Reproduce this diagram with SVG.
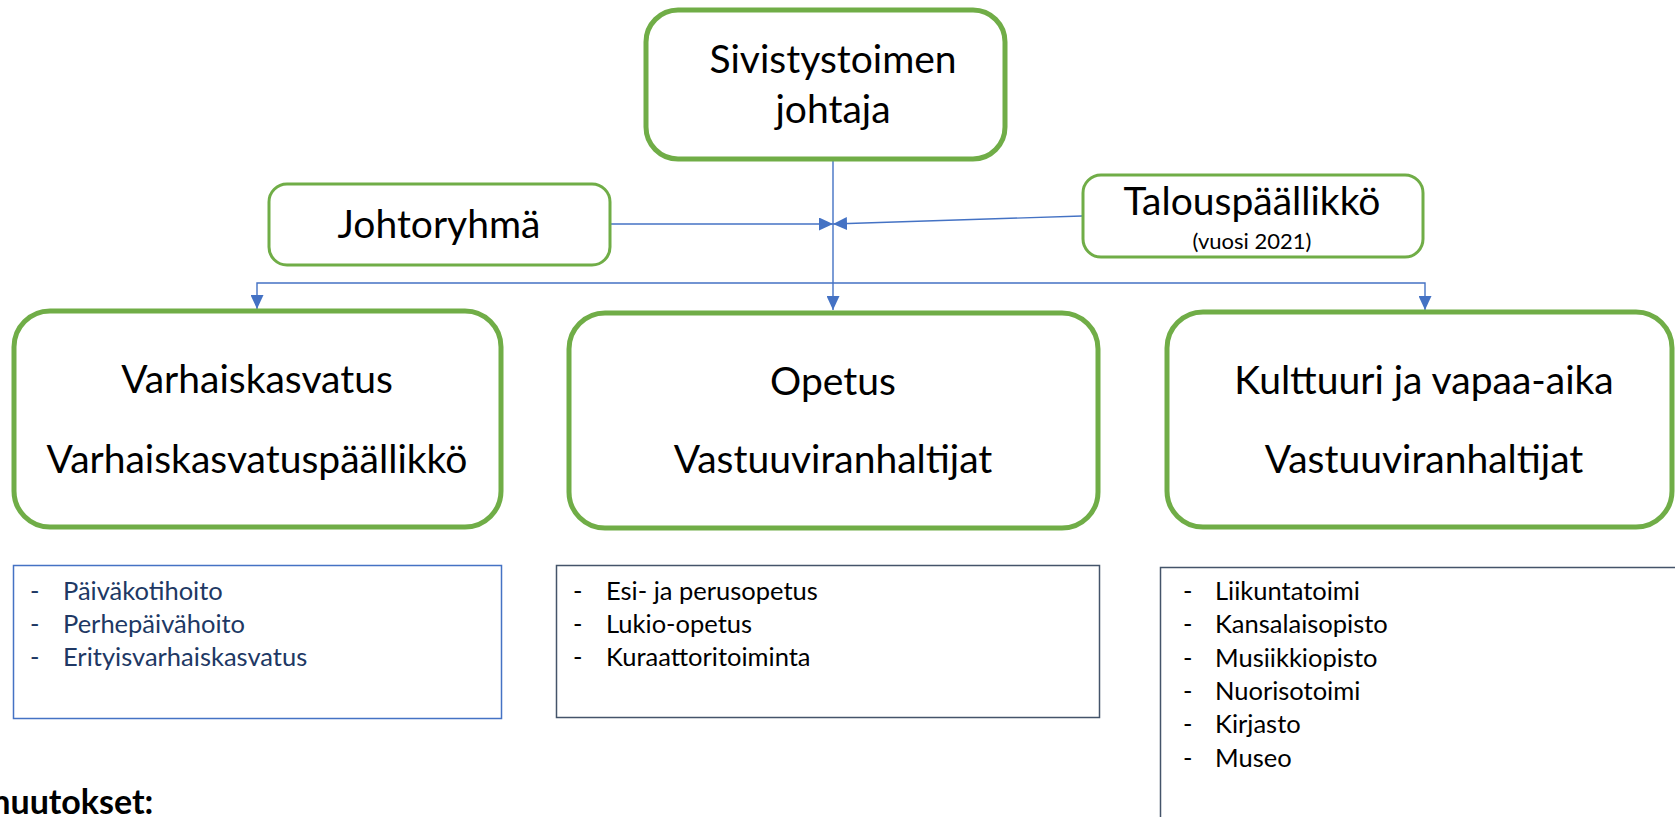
<svg xmlns="http://www.w3.org/2000/svg" width="1675" height="817" viewBox="0 0 1675 817">
<defs>
<style>
.node{fill:#fff;stroke:#70AD47}
.big{stroke-width:5}
.small{stroke-width:3}
.t{font-family:Lato,"Liberation Sans",sans-serif;fill:#000;text-anchor:middle}
.tl{font-size:39px}
.ts{font-size:22px}
.li{font-family:Lato,"Liberation Sans",sans-serif;font-size:25.5px;fill:#000}
.li1{fill:#203864}
.conn{fill:none;stroke:#4472C4;stroke-width:1.4}
.list{fill:#fff;stroke-width:1.5}
</style>
<marker id="arr" markerWidth="14" markerHeight="13" refX="14" refY="6.5" orient="auto" markerUnits="userSpaceOnUse">
<path d="M0,0 L14,6.5 L0,13 z" fill="#4472C4"/>
</marker>
</defs>
<rect width="1675" height="817" fill="#fff"/>

<g id="connectors">
<path class="conn" d="M833,160 L833,310" marker-end="url(#arr)"/>
<path class="conn" d="M611,224 L833,224" marker-end="url(#arr)"/>
<path class="conn" d="M1082,216 L833,224" marker-end="url(#arr)"/>
<path class="conn" d="M833,283 L257,283 L257,309" marker-end="url(#arr)"/>
<path class="conn" d="M833,283 L1425,283 L1425,310" marker-end="url(#arr)"/>
</g>

<g id="sivistystoimen-johtaja">
<rect class="node big" x="646" y="10" width="359" height="149" rx="32"/>
<text class="t tl" x="833" y="73">Sivistystoimen</text>
<text class="t tl" x="833" y="123">johtaja</text>
</g>

<g id="johtoryhma">
<rect class="node small" x="269" y="184" width="341" height="81" rx="18"/>
<text class="t tl" x="439" y="238">Johtoryhmä</text>
</g>

<g id="talouspaallikko">
<rect class="node small" x="1083" y="175" width="340" height="82" rx="18"/>
<text class="t tl" x="1252" y="215">Talouspäällikkö</text>
<text class="t ts" x="1252" y="249">(vuosi 2021)</text>
</g>

<g id="varhaiskasvatus">
<rect class="node big" x="14" y="311" width="487" height="216" rx="36"/>
<text class="t tl" x="257" y="393">Varhaiskasvatus</text>
<text class="t tl" x="257" y="473">Varhaiskasvatuspäällikkö</text>
</g>

<g id="opetus">
<rect class="node big" x="569" y="313" width="529" height="215" rx="36"/>
<text class="t tl" x="833" y="395">Opetus</text>
<text class="t tl" x="833" y="473">Vastuuviranhaltijat</text>
</g>

<g id="kulttuuri">
<rect class="node big" x="1167" y="312" width="505" height="215" rx="36"/>
<text class="t tl" x="1424" y="394">Kulttuuri ja vapaa-aika</text>
<text class="t tl" x="1424" y="473">Vastuuviranhaltijat</text>
</g>

<g id="lista-varhaiskasvatus">
<rect class="list" x="13.5" y="565.5" width="488" height="153" stroke="#4472C4"/>
<g class="li li1">
<text x="30" y="600">-</text><text x="63" y="600">Päiväkotihoito</text>
<text x="30" y="633">-</text><text x="63" y="633">Perhepäivähoito</text>
<text x="30" y="666">-</text><text x="63" y="666">Erityisvarhaiskasvatus</text>
</g>
</g>

<g id="lista-opetus">
<rect class="list" x="556.5" y="565.5" width="543" height="152" stroke="#44546A"/>
<g class="li">
<text x="573" y="600">-</text><text x="606" y="600">Esi- ja perusopetus</text>
<text x="573" y="633">-</text><text x="606" y="633">Lukio-opetus</text>
<text x="573" y="666">-</text><text x="606" y="666">Kuraattoritoiminta</text>
</g>
</g>

<g id="lista-kulttuuri">
<rect class="list" x="1160.5" y="567.5" width="520" height="270" stroke="#44546A"/>
<g class="li">
<text x="1183" y="600">-</text><text x="1215" y="600">Liikuntatoimi</text>
<text x="1183" y="633">-</text><text x="1215" y="633">Kansalaisopisto</text>
<text x="1183" y="667">-</text><text x="1215" y="667">Musiikkiopisto</text>
<text x="1183" y="700">-</text><text x="1215" y="700">Nuorisotoimi</text>
<text x="1183" y="733">-</text><text x="1215" y="733">Kirjasto</text>
<text x="1183" y="767">-</text><text x="1215" y="767">Museo</text>
</g>
</g>

<text x="-18" y="814" font-family="Lato,'Liberation Sans',sans-serif" font-weight="bold" font-size="34" fill="#000">muutokset:</text>
</svg>
